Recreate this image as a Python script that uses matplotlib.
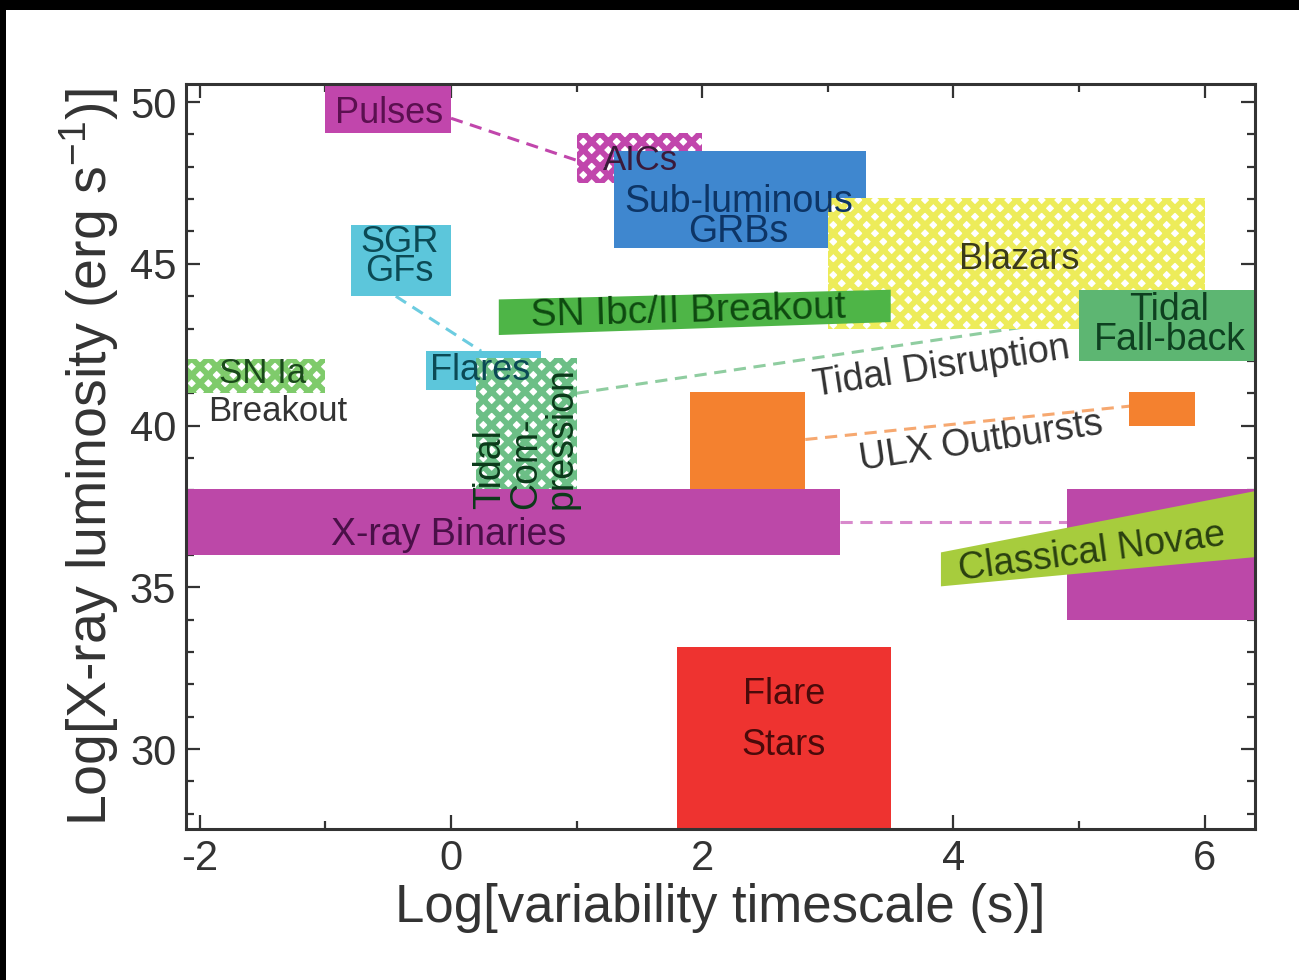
import matplotlib
matplotlib.use("Agg")
import matplotlib.pyplot as plt
from matplotlib.patches import Rectangle, Polygon

plt.rcParams['font.family'] = ['Liberation Sans', 'DejaVu Sans']
plt.rcParams['mathtext.fontset'] = 'custom'
plt.rcParams['mathtext.rm'] = 'Liberation Sans'
plt.rcParams['mathtext.it'] = 'Liberation Sans'
plt.rcParams['hatch.linewidth'] = 4.2
plt.rcParams['axes.unicode_minus'] = False

# ---- data ----
# rectangular regions: name, x0, x1, y0, y1 (log timescale, log luminosity)
rect_names = ["Pulses", "AICs", "Sub-luminous GRBs", "Blazars", "SGR GFs",
              "SN Ia Breakout", "Flares", "Tidal Compression", "Tidal Fall-back",
              "ULX a", "ULX b", "X-ray Binaries a", "X-ray Binaries b", "Flare Stars"]
rect_x0 = [-1.0, 1.0, 1.3, 3.0, -0.8, -2.1, -0.2, 0.2, 5.0, 1.9, 5.4, -2.2, 4.9, 1.8]
rect_x1 = [0.0, 2.0, 3.3, 6.0, 0.0, -1.0, 0.72, 1.0, 6.5, 2.82, 5.92, 3.1, 6.5, 3.5]
rect_y0 = [49.05, 47.5, 45.5, 43.0, 44.0, 41.0, 41.1, 37.3, 42.0, 38.0, 40.0, 36.0, 34.0, 27.0]
rect_y1 = [51.0, 49.05, 48.5, 47.05, 46.2, 42.05, 42.3, 42.1, 44.2, 41.05, 41.05, 38.05, 38.05, 33.15]
rect_colors = ["#C146AC", "#C146AC", "#3F87CF", "#EDEC5A", "#5CC6DB",
               "#7FCB6B", "#5CC6DB", "#6CBF86", "#5DB672",
               "#F4812F", "#F4812F", "#BC48A8", "#BC48A8", "#EE3330"]
rect_hatched = [False, True, False, True, False, True, False, True, False,
                False, False, False, False, False]

# slanted regions (polygon corners)
snibc_x = [0.38, 3.5, 3.5, 0.38]
snibc_y = [42.8, 43.2, 44.2, 43.9]
novae_x = [3.9, 6.5, 6.5, 3.9]
novae_y = [35.03, 35.97, 38.05, 36.08]

# dashed connectors: (x0, y0, x1, y1)
link_x0 = [0.0, -0.44, 1.0, 2.82, 3.1]
link_y0 = [49.5, 44.0, 41.0, 39.57, 37.03]
link_x1 = [1.0, 0.24, 5.0, 5.4, 4.9]
link_y1 = [48.2, 42.3, 43.3, 40.6, 37.03]
link_colors = ["#C146AC", "#6CCCE0", "#8FCDA0", "#F6A870", "#D889CC"]

# labels: text, x, y, rotation, color
lab_text = ["Pulses", "AICs", "Sub-luminous\nGRBs", "Blazars", "SGR\nGFs",
            "SN Ibc/II Breakout", "Flares", "SN Ia", "Breakout",
            "Tidal", "Com-", "pression", "Tidal\nFall-back", "Tidal Disruption",
            "ULX Outbursts", "X-ray Binaries", "Classical Novae", "Flare\n\nStars"]
lab_x = [-0.49, 1.51, 2.29, 4.52, -0.41, 1.89, 0.23, -1.5, -1.38,
         0.31, 0.6, 0.88, 5.72, 3.9, 4.22, -0.02, 5.1, 2.65]
lab_y = [49.66, 48.2, 46.45, 45.12, 45.2, 43.5, 41.7, 41.6, 40.45,
         37.42, 37.42, 37.42, 43.1, 41.8, 39.5, 36.63, 36.08, 30.9]
lab_rot = [0, 0, 0, 0, 0, 1.5, 0, 0, 0, 90, 90, 90, 0, 8.5, 8.5, 0, 7.5, 0]
lab_size = [26, 25, 27, 26, 26, 28, 26, 25, 25, 27, 27, 27, 27, 27, 27, 27, 27, 26]
lab_color = ["#5B1050", "#3A1A3A", "#0D3566", "#3A3A1A", "#0B4A55",
             "#0E4A10", "#0B4A55", "#1A4A1A", "#333333",
             "#0B3A1A", "#0B3A1A", "#0B3A1A", "#0E4020",
             "#333333", "#333333", "#4A1048", "#2A4010", "#4A0A0A"]

xticks = [-2, 0, 2, 4, 6]
yticks = [30, 35, 40, 45, 50]

# ---- figure ----
fig = plt.figure(figsize=(12.99, 9.8), dpi=100)
fig.patch.set_facecolor("white")
ax = fig.add_axes([0.1432, 0.1541, 0.8229, 0.7602])
ax.set_xlim(-2.11, 6.4)
ax.set_ylim(27.53, 50.56)

for i in range(len(rect_names)):
    x0, x1, y0, y1 = rect_x0[i], rect_x1[i], rect_y0[i], rect_y1[i]
    if rect_hatched[i]:
        p = Rectangle((x0, y0), x1 - x0, y1 - y0, facecolor="white",
                      edgecolor=rect_colors[i], hatch="xx", linewidth=0, zorder=2)
    else:
        p = Rectangle((x0, y0), x1 - x0, y1 - y0, facecolor=rect_colors[i],
                      edgecolor="none", linewidth=0, zorder=2)
    ax.add_patch(p)

ax.add_patch(Polygon(list(zip(snibc_x, snibc_y)), closed=True,
                     facecolor="#4EB547", edgecolor="none", zorder=3))
ax.add_patch(Polygon(list(zip(novae_x, novae_y)), closed=True,
                     facecolor="#A7CC3D", edgecolor="none", zorder=3))

for i in range(len(link_x0)):
    ax.plot([link_x0[i], link_x1[i]], [link_y0[i], link_y1[i]],
            linestyle=(0, (4, 2.5)), color=link_colors[i], lw=2.2, zorder=1.5)

for i in range(len(lab_text)):
    ls = 0.78
    ha = "center"
    if lab_rot[i] == 90:
        ha = "left"
    if lab_text[i].startswith("Flare\n"):
        ls = 0.66
    ax.text(lab_x[i], lab_y[i], lab_text[i], ha=ha, va="center",
            multialignment="center", rotation=lab_rot[i], rotation_mode="anchor",
            color=lab_color[i], fontsize=lab_size[i], linespacing=ls, zorder=5)

ax.set_xticks(xticks)
ax.set_yticks(yticks)
ax.set_xticks([-1, 1, 3, 5], minor=True)
ax.set_yticks([y for y in range(28, 51) if y % 5 != 0], minor=True)
ax.tick_params(which="both", direction="in", top=True, right=True,
               colors="#333333", width=1.6)
ax.tick_params(which="major", length=10, labelsize=30, pad=7)
ax.tick_params(which="minor", length=6)
for s in ax.spines.values():
    s.set_linewidth(2.2)
    s.set_color("#333333")
    s.set_zorder(6)

ax.set_xlabel("Log[variability timescale (s)]", fontsize=38, color="#333333",
              labelpad=3)
ax.set_ylabel("Log[X-ray luminosity (erg s$^{-1}$)]", fontsize=40,
              color="#333333", labelpad=6)

# black borders of the scanned image
fig.patches.append(Rectangle((0, 1 - 10 / 980), 1, 10 / 980, transform=fig.transFigure,
                             facecolor="black", edgecolor="none", zorder=10))
fig.patches.append(Rectangle((0, 0), 6 / 1299, 1, transform=fig.transFigure,
                             facecolor="black", edgecolor="none", zorder=10))

fig.savefig("out.png", dpi=100)
